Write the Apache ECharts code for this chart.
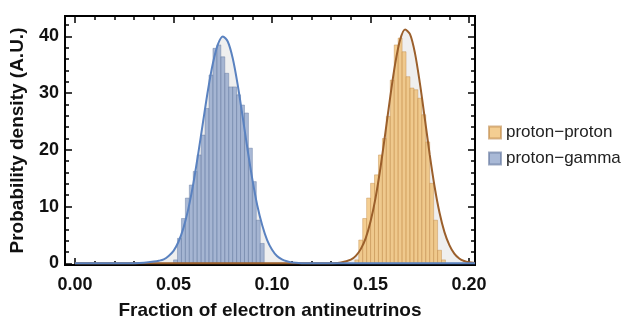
<!DOCTYPE html>
<html>
<head>
<meta charset="utf-8">
<script src="https://cdn.jsdelivr.net/npm/echarts@6/dist/echarts.min.js"></script>
<style>
html, body { margin: 0; padding: 0; background: #fff; }
#chart { width: 631px; height: 321px; }
</style>
</head>
<body>
<div id="chart"></div>
<script>
// histogram bins (width 0.002), heights
var binWidth = 0.002;
var gammaBinStart = 0.050;
var gammaCounts = [0.6, 4.4, 7.9, 11.5, 13.8, 16.2, 19.1, 22.6, 27.3, 33.2, 37.9, 38.5,
    36.4, 33.5, 31.1, 31.1, 29.7, 27.9, 26.5, 20.3, 14.4, 7.6, 3.5];
var ppBinStart = 0.142;
var ppCounts = [0.6, 4.1, 7.9, 11.5, 14.1, 15.6, 19.1, 22.0, 25.9, 32.3, 38.5, 39.7,
    37.3, 32.9, 30.9, 30.6, 29.1, 26.2, 21.4, 14.1, 7.6, 2.3, 0.6];

// fitted curves, points
var gammaCurveX = [0, 0.02, 0.03, 0.035, 0.04, 0.0425, 0.045, 0.0475, 0.05, 0.0525, 0.055, 0.0575,
    0.06, 0.0625, 0.065, 0.0675, 0.07, 0.0725, 0.075, 0.0775, 0.08, 0.0825, 0.085, 0.0875,
    0.09, 0.0925, 0.095, 0.0975, 0.1, 0.1025, 0.105, 0.1075, 0.11, 0.115, 0.12, 0.203];
var gammaCurveY = [0, 0, 0.02, 0.1, 0.3, 0.45, 0.7, 1.3, 2.2, 3.8, 6.2, 9.6,
    14.0, 19.3, 25.0, 30.6, 35.3, 38.6, 40.0, 39.1, 36.2, 31.6, 26.0, 20.2,
    14.8, 10.2, 6.7, 4.1, 2.4, 1.3, 0.7, 0.35, 0.15, 0.03, 0, 0];
var ppCurveX = [0, 0.12, 0.13, 0.135, 0.14, 0.1425, 0.145, 0.1475, 0.15, 0.1525, 0.155, 0.1575,
    0.16, 0.1625, 0.165, 0.1675, 0.17, 0.1725, 0.175, 0.1775, 0.18, 0.1825, 0.185, 0.1875,
    0.19, 0.1925, 0.195, 0.1975, 0.2, 0.203];
var ppCurveY = [0, 0, 0.02, 0.13, 0.64, 1.3, 2.5, 4.4, 7.4, 11.5, 16.8, 23.0,
    29.4, 35.2, 39.4, 41.2, 40.4, 37.1, 31.8, 25.6, 19.2, 13.5, 8.9, 5.5,
    3.2, 1.7, 0.85, 0.4, 0.18, 0.06];

var xMajorTicks = [0, 0.05, 0.10, 0.15, 0.20];
var xMinorTicks = [0.01, 0.02, 0.03, 0.04, 0.06, 0.07, 0.08, 0.09, 0.11, 0.12, 0.13, 0.14,
    0.16, 0.17, 0.18, 0.19];
var yMajorTicks = [0, 10, 20, 30, 40];
var yMinorTicks = [2, 4, 6, 8, 12, 14, 16, 18, 22, 24, 26, 28, 32, 34, 36, 38, 42];
var seriesNames = ['proton\u2212proton', 'proton\u2212gamma'];

var chart = echarts.init(document.getElementById('chart'));

function bins(start, counts) {
    return counts.map(function (h, i) {
        return [start + i * binWidth, start + (i + 1) * binWidth, h];
    });
}
function pairs(xs, ys) {
    return xs.map(function (x, i) { return [x, ys[i]]; });
}
function renderBar(params, api) {
    var p0 = api.coord([api.value(0), api.value(2)]);
    var p1 = api.coord([api.value(1), 0]);
    return {
        type: 'rect',
        shape: { x: p0[0], y: p0[1], width: p1[0] - p0[0], height: p1[1] - p0[1] },
        style: api.style()
    };
}

var font = 'Liberation Sans, Arial, sans-serif';
var xMin = -0.0051, xMax = 0.203, yMin = -0.3, yMax = 43.6;

function xAxis(pos, ticks, len, labels) {
    return {
        type: 'value', position: pos, min: xMin, max: xMax,
        splitLine: { show: false },
        axisLine: { show: true, onZero: false, lineStyle: { color: '#000', width: 1.8 } },
        axisTick: { show: true, inside: true, length: len, customValues: ticks,
            lineStyle: { color: '#000', width: 1.5 } },
        axisLabel: { show: labels, customValues: ticks, margin: 11,
            formatter: function (v) { return v.toFixed(2); },
            fontFamily: font, fontWeight: 'bold', fontSize: 18, color: '#111' }
    };
}
function yAxis(pos, ticks, len, labels) {
    return {
        type: 'value', position: pos, min: yMin, max: yMax,
        splitLine: { show: false },
        axisLine: { show: true, onZero: false, lineStyle: { color: '#000', width: 1.8 } },
        axisTick: { show: true, inside: true, length: len, customValues: ticks,
            lineStyle: { color: '#000', width: 1.5 } },
        axisLabel: { show: labels, customValues: ticks, margin: 6,
            fontFamily: font, fontWeight: 'bold', fontSize: 18, color: '#111' }
    };
}

var xa = [
    xAxis('bottom', xMajorTicks, 7, true),
    xAxis('bottom', xMinorTicks, 4, false),
    xAxis('top', xMajorTicks, 7, false),
    xAxis('top', xMinorTicks, 4, false)
];
xa[0].name = 'Fraction of electron antineutrinos';
xa[0].nameLocation = 'middle';
xa[0].nameGap = 36;
xa[0].nameTextStyle = { fontFamily: font, fontWeight: 'bold', fontSize: 19, color: '#111' };

var ya = [
    yAxis('left', yMajorTicks, 7, true),
    yAxis('left', yMinorTicks, 4, false),
    yAxis('right', yMajorTicks, 7, false),
    yAxis('right', yMinorTicks, 4, false)
];
ya[0].name = 'Probability density (A.U.)';
ya[0].nameLocation = 'middle';
ya[0].nameGap = 38;
ya[0].nameTextStyle = { fontFamily: font, fontWeight: 'bold', fontSize: 19, color: '#111' };

var option = {
    animation: false,
    grid: { left: 65, top: 16, width: 410, height: 249, outerBoundsMode: 'none' },
    legend: {
        orient: 'vertical', left: 483, top: 119,
        itemWidth: 12, itemHeight: 12, itemGap: 9, icon: 'rect',
        selectedMode: false,
        textStyle: { fontFamily: font, fontSize: 17, color: '#222' },
        data: seriesNames
    },
    xAxis: xa,
    yAxis: ya,
    series: [
        {
            type: 'line', z: 1, silent: true, showSymbol: false, smooth: 0.3,
            data: pairs(ppCurveX, ppCurveY),
            lineStyle: { width: 0 }, areaStyle: { color: '#efefef', opacity: 1 }
        },
        {
            type: 'line', z: 1, silent: true, showSymbol: false, smooth: 0.3,
            data: pairs(gammaCurveX, gammaCurveY),
            lineStyle: { width: 0 }, areaStyle: { color: '#efefef', opacity: 1 }
        },
        {
            name: seriesNames[0], type: 'custom', z: 2, renderItem: renderBar,
            encode: { x: [0, 1], y: 2 },
            itemStyle: { color: 'rgba(240,185,100,0.7)', borderColor: 'rgba(190,135,70,0.6)', borderWidth: 0.7 },
            data: bins(ppBinStart, ppCounts)
        },
        {
            name: seriesNames[1], type: 'custom', z: 2, renderItem: renderBar,
            encode: { x: [0, 1], y: 2 },
            itemStyle: { color: 'rgba(140,162,200,0.75)', borderColor: 'rgba(95,115,155,0.6)', borderWidth: 0.7 },
            data: bins(gammaBinStart, gammaCounts)
        },
        {
            type: 'line', z: 3, silent: true, showSymbol: false, smooth: 0.3,
            data: pairs(ppCurveX, ppCurveY),
            lineStyle: { color: '#9b5f2b', width: 2 }
        },
        {
            type: 'line', z: 4, silent: true, showSymbol: false, smooth: 0.3,
            data: pairs(gammaCurveX, gammaCurveY),
            lineStyle: { color: '#5a82c0', width: 2 }
        }
    ]
};
chart.setOption(option);
</script>
</body>
</html>
